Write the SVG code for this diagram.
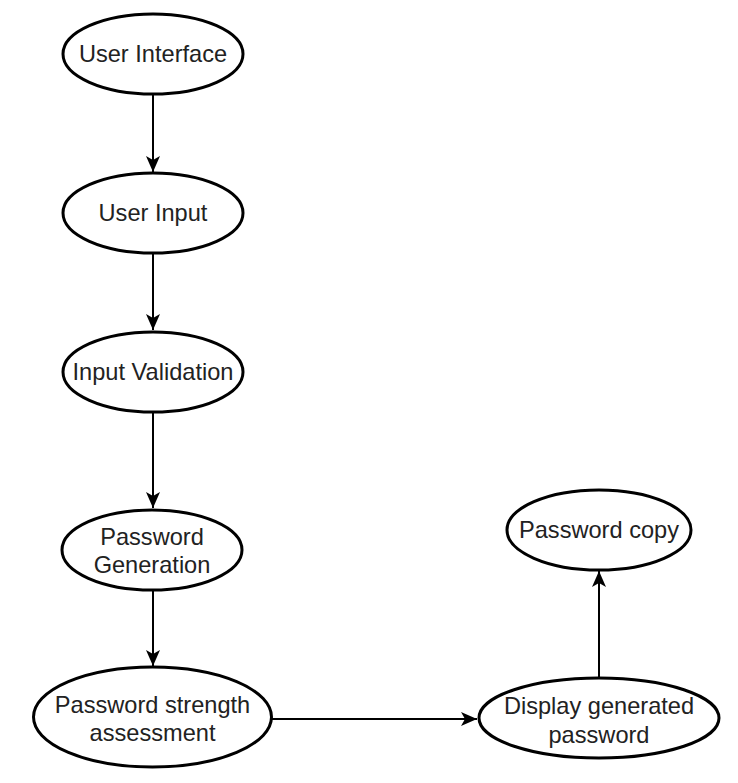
<svg xmlns="http://www.w3.org/2000/svg" width="738" height="783" viewBox="0 0 738 783">
<style>
.node ellipse{fill:#ffffff;stroke:#000000;stroke-width:3}
.node text{font-family:"Liberation Sans",Arial,sans-serif;font-size:23.6px;fill:#222222;text-anchor:middle}
.edge{stroke:#000000;stroke-width:2;fill:none;marker-end:url(#arrow)}
</style>
<defs>
<marker id="arrow" markerUnits="userSpaceOnUse" markerWidth="18" markerHeight="18" viewBox="0 0 18 18" refX="17" refY="9" orient="auto">
<path d="M1,2 L17,9 L1,16 L5,9 Z" fill="#000000"/>
</marker>
</defs>
<rect width="738" height="783" fill="#ffffff"/>
<g id="connectors">
<line class="edge" x1="153" y1="94" x2="153" y2="172"/>
<line class="edge" x1="153" y1="254" x2="153" y2="330"/>
<line class="edge" x1="153" y1="413" x2="153" y2="508"/>
<line class="edge" x1="153" y1="591" x2="153" y2="666"/>
<line class="edge" x1="272" y1="719" x2="477" y2="719"/>
<line class="edge" x1="599" y1="677" x2="599" y2="571"/>
</g>
<g id="user-interface" class="node">
<ellipse cx="153" cy="54" rx="90" ry="40"/>
<text x="153" y="62">User Interface</text>
</g>
<g id="user-input" class="node">
<ellipse cx="153" cy="213" rx="90" ry="40"/>
<text x="153" y="221">User Input</text>
</g>
<g id="input-validation" class="node">
<ellipse cx="153" cy="372" rx="90" ry="40"/>
<text x="153" y="380">Input Validation</text>
</g>
<g id="password-generation" class="node">
<ellipse cx="152" cy="550" rx="90" ry="40"/>
<text x="152" y="545">Password</text>
<text x="152" y="573">Generation</text>
</g>
<g id="password-strength" class="node">
<ellipse cx="152.5" cy="717" rx="119" ry="50"/>
<text x="152.5" y="713">Password strength</text>
<text x="152.5" y="741">assessment</text>
</g>
<g id="display-password" class="node">
<ellipse cx="599" cy="718" rx="120" ry="40"/>
<text x="599" y="714">Display generated</text>
<text x="599" y="743">password</text>
</g>
<g id="password-copy" class="node">
<ellipse cx="599" cy="530" rx="92" ry="40"/>
<text x="599" y="538">Password copy</text>
</g>
</svg>
